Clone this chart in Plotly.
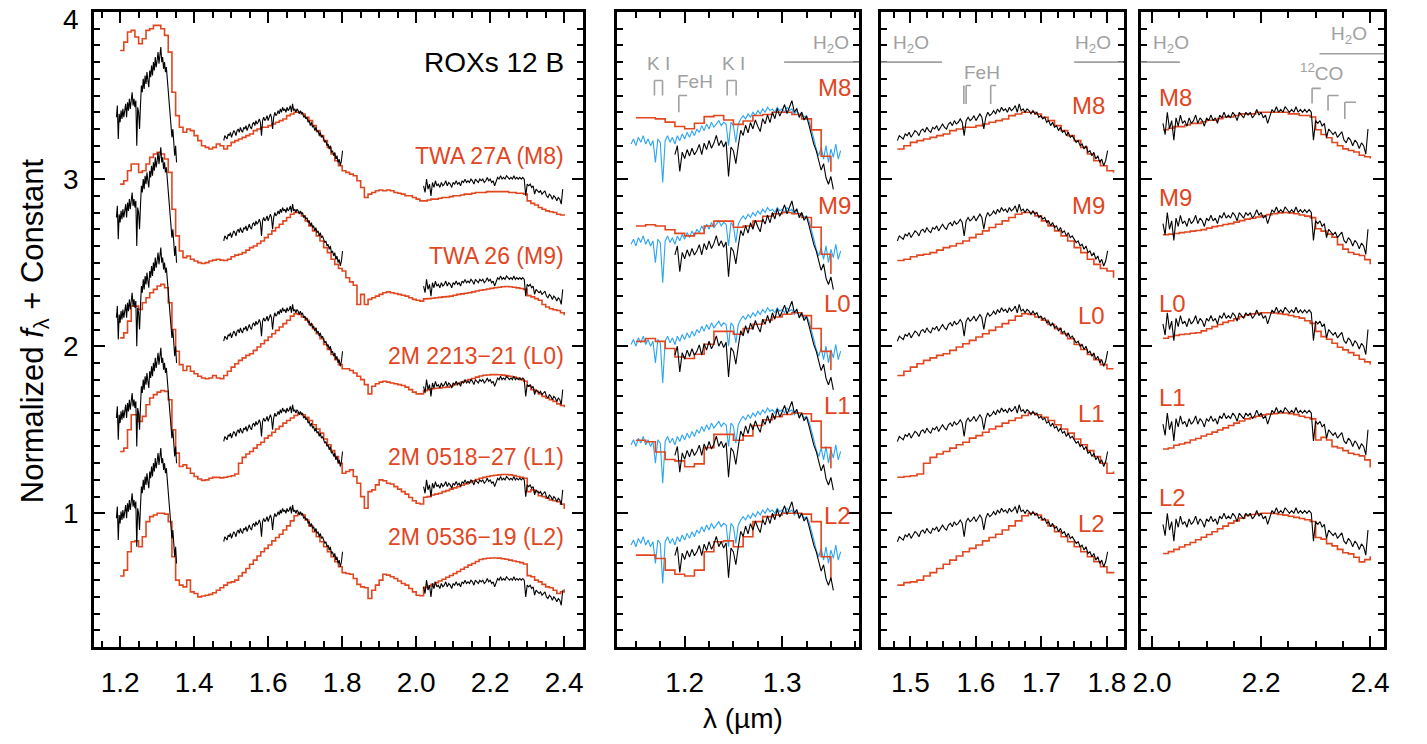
import numpy as np
import plotly.graph_objects as go

# ---------------------------------------------------------------
# ROXs 12 B, low-resolution spectrum (normalised to the H-band peak)
# ---------------------------------------------------------------
OBJ_J_START, OBJ_J_STEP = 1.19, 0.0025
obj_J = [
    0.97, 1.04, 0.84, 0.99, 0.94, 1.01, 0.96, 1.02, 0.97, 1.00,
    1.05, 0.97, 1.06, 1.01, 1.08, 1.02, 1.06, 1.12, 1.04, 1.08,
    1.03, 1.07, 0.80, 1.03, 1.00, 0.90, 1.04, 1.16, 1.12, 1.20,
    1.14, 1.22, 1.17, 1.24, 1.19, 1.15, 1.25, 1.21, 1.28, 1.22,
    1.30, 1.25, 1.33, 1.27, 1.31, 1.36, 1.29, 1.34, 1.39, 1.30,
    1.33, 1.26, 1.30, 1.24, 1.27, 1.20, 1.12, 1.05, 1.00, 0.93,
    0.85, 0.90, 0.79, 0.74, 0.80, 0.70,
]
OBJ_H_START, OBJ_H_STEP = 1.48, 0.003
obj_H = [
    0.83, 0.86, 0.85, 0.84, 0.87, 0.86, 0.88, 0.85, 0.87, 0.89,
    0.88, 0.86, 0.89, 0.90, 0.88, 0.91, 0.89, 0.88, 0.91, 0.90,
    0.92, 0.89, 0.91, 0.93, 0.91, 0.90, 0.93, 0.94, 0.92, 0.95,
    0.93, 0.94, 0.96, 0.94, 0.86, 0.95, 0.97, 0.95, 0.96, 0.98,
    0.95, 0.97, 0.99, 0.97, 0.90, 0.97, 1.00, 0.98, 0.99, 1.01,
    0.99, 1.02, 1.00, 1.03, 1.01, 1.02, 1.00, 1.03, 1.01, 1.02,
    1.04, 1.00, 1.05, 1.01, 1.02, 1.00, 1.02, 1.01, 0.99, 1.01,
    0.99, 1.00, 0.97, 0.98, 0.96, 0.97, 0.94, 0.95, 0.92, 0.94,
    0.91, 0.92, 0.89, 0.91, 0.88, 0.89, 0.86, 0.88, 0.85, 0.86,
    0.84, 0.82, 0.83, 0.80, 0.81, 0.78, 0.80, 0.76, 0.77, 0.74,
    0.76, 0.72, 0.74, 0.70, 0.72, 0.68, 0.71, 0.77,
]
OBJ_K_START, OBJ_K_STEP = 2.02, 0.004
obj_K = [
    0.56, 0.52, 0.60, 0.54, 0.57, 0.50, 0.58, 0.55, 0.59, 0.56,
    0.57, 0.55, 0.58, 0.56, 0.57, 0.59, 0.56, 0.58, 0.57, 0.55,
    0.58, 0.57, 0.59, 0.57, 0.58, 0.56, 0.59, 0.58, 0.60, 0.58,
    0.59, 0.58, 0.60, 0.59, 0.57, 0.60, 0.59, 0.58, 0.60, 0.59,
    0.60, 0.58, 0.59, 0.61, 0.59, 0.60, 0.58, 0.59, 0.56, 0.59,
    0.61, 0.60, 0.62, 0.60, 0.61, 0.60, 0.62, 0.61, 0.60, 0.61,
    0.60, 0.62, 0.60, 0.61, 0.60, 0.61, 0.60, 0.61, 0.60, 0.50,
    0.57, 0.56, 0.57, 0.55, 0.56, 0.51, 0.54, 0.53, 0.52, 0.53,
    0.51, 0.52, 0.53, 0.50, 0.49, 0.51, 0.50, 0.48, 0.50, 0.49,
    0.47, 0.49, 0.48, 0.45, 0.54,
]

# second J-band spectrum of ROXs 12 B (J-band normalised)
OBJ_J2_START, OBJ_J2_STEP = 1.145, 0.0025
obj_J2 = [
    0.81, 0.84, 0.80, 0.85, 0.82, 0.86, 0.81, 0.84, 0.80, 0.83,
    0.70, 0.84, 0.82, 0.58, 0.83, 0.86, 0.82, 0.85, 0.81, 0.86,
    0.83, 0.87, 0.84, 0.88, 0.85, 0.89, 0.86, 0.90, 0.88, 0.92,
    0.89, 0.93, 0.90, 0.94, 0.91, 0.93, 0.95, 0.92, 0.94, 0.93,
    0.80, 0.94, 0.92, 0.82, 0.93, 0.96, 0.98, 0.96, 0.99, 0.97,
    1.00, 0.98, 1.01, 0.99, 1.02, 1.00, 1.03, 1.01, 1.02, 1.00,
    1.03, 1.01, 1.02, 1.00, 1.03, 1.01, 1.02, 0.99, 1.01, 0.98,
    1.00, 0.97, 0.98, 0.95, 0.90, 0.84, 0.78, 0.74, 0.79, 0.72,
    0.80, 0.70, 0.78, 0.73, 0.81, 0.72, 0.77,
]

# ---------------------------------------------------------------
# Young field templates on a common 0.01 um grid (H-peak normalised)
# ---------------------------------------------------------------
TPL_START, TPL_STEP = 1.15, 0.01
tpl_twa27a = [
    1.47, 1.47, 1.46, 1.43, 1.39, 1.37, 1.42, 1.48, 1.49, 1.45,
    1.41, 1.44, 1.49, 1.50, 1.52, 1.52, 1.50, 1.46, 1.36, 1.12,
    0.98, 0.91, 0.88, 0.90, 0.89, 0.86, 0.83, 0.80, 0.79, 0.78,
    0.79, 0.81, 0.80, 0.78, 0.80, 0.82, 0.83, 0.84, 0.85, 0.86,
    0.87, 0.89, 0.90, 0.91, 0.91, 0.92, 0.93, 0.94, 0.95, 0.96,
    0.98, 0.99, 1.00, 1.00, 0.99, 0.97, 0.95, 0.92, 0.89, 0.86,
    0.83, 0.79, 0.75, 0.71, 0.68, 0.65, 0.64, 0.63, 0.62, 0.59,
    0.55, 0.49, 0.51, 0.52, 0.53, 0.535, 0.53, 0.535, 0.53, 0.52,
    0.515, 0.51, 0.50, 0.50, 0.49, 0.48, 0.47, 0.47, 0.475, 0.48,
    0.48, 0.485, 0.49, 0.49, 0.495, 0.50, 0.50, 0.505, 0.51, 0.51,
    0.515, 0.52, 0.52, 0.52, 0.525, 0.525, 0.525, 0.525, 0.525, 0.525,
    0.52, 0.52, 0.515, 0.515, 0.51, 0.47, 0.455, 0.445, 0.43, 0.42,
    0.41, 0.405, 0.40, 0.39, 0.385, 0.38,
]
tpl_twa26 = [
    1.25, 1.26, 1.25, 1.22, 1.19, 1.17, 1.19, 1.25, 1.29, 1.29,
    1.24, 1.25, 1.29, 1.33, 1.35, 1.36, 1.35, 1.32, 1.24, 1.02,
    0.86, 0.77, 0.73, 0.74, 0.72, 0.71, 0.70, 0.695, 0.70, 0.71,
    0.715, 0.72, 0.715, 0.713, 0.72, 0.735, 0.745, 0.75, 0.76, 0.775,
    0.79, 0.80, 0.815, 0.83, 0.85, 0.87, 0.89, 0.91, 0.93, 0.95,
    0.97, 0.99, 1.00, 1.00, 0.98, 0.95, 0.92, 0.89, 0.86, 0.83,
    0.79, 0.76, 0.72, 0.69, 0.665, 0.65, 0.61, 0.585, 0.565, 0.45,
    0.51, 0.45, 0.48, 0.49, 0.50, 0.51, 0.52, 0.525, 0.52, 0.515,
    0.51, 0.505, 0.50, 0.49, 0.48, 0.475, 0.47, 0.483, 0.485, 0.487,
    0.49, 0.492, 0.495, 0.497, 0.50, 0.505, 0.51, 0.513, 0.517, 0.52,
    0.525, 0.53, 0.535, 0.538, 0.542, 0.546, 0.55, 0.553, 0.556, 0.557,
    0.556, 0.553, 0.549, 0.545, 0.54, 0.503, 0.495, 0.485, 0.475, 0.45,
    0.435, 0.424, 0.418, 0.414, 0.40, 0.385,
]
tpl_2m2213 = [
    0.97, 0.99, 0.97, 0.92, 0.86, 0.85, 0.88, 0.95, 1.04, 1.04,
    1.02, 1.06, 1.09, 1.12, 1.14, 1.16, 1.17, 1.15, 1.06, 0.90,
    0.77, 0.69, 0.655, 0.68, 0.65, 0.635, 0.62, 0.61, 0.605, 0.61,
    0.625, 0.61, 0.605, 0.625, 0.65, 0.675, 0.695, 0.715, 0.73, 0.745,
    0.755, 0.775, 0.795, 0.815, 0.835, 0.855, 0.875, 0.895, 0.915, 0.935,
    0.955, 0.98, 0.995, 0.99, 0.975, 0.955, 0.93, 0.905, 0.875, 0.845,
    0.81, 0.78, 0.75, 0.72, 0.69, 0.665, 0.665, 0.655, 0.64, 0.62,
    0.60, 0.57, 0.515, 0.56, 0.575, 0.585, 0.59, 0.585, 0.58, 0.575,
    0.57, 0.565, 0.555, 0.54, 0.525, 0.515, 0.515, 0.534, 0.54, 0.545,
    0.548, 0.55, 0.553, 0.555, 0.562, 0.57, 0.578, 0.586, 0.594, 0.60,
    0.607, 0.615, 0.622, 0.626, 0.628, 0.63, 0.63, 0.629, 0.627, 0.624,
    0.62, 0.615, 0.61, 0.60, 0.59, 0.56, 0.54, 0.53, 0.515, 0.50,
    0.49, 0.48, 0.47, 0.455, 0.445, 0.435,
]
tpl_2m0518 = [
    0.95, 0.94, 0.87, 0.82, 0.81, 0.77, 0.79, 0.90, 0.99, 0.99,
    0.95, 0.98, 1.05, 1.09, 1.11, 1.125, 1.135, 1.13, 1.08, 0.90,
    0.76, 0.68, 0.69, 0.67, 0.64, 0.62, 0.605, 0.597, 0.60, 0.61,
    0.615, 0.615, 0.612, 0.616, 0.62, 0.625, 0.635, 0.70, 0.735, 0.755,
    0.77, 0.79, 0.81, 0.825, 0.85, 0.865, 0.885, 0.905, 0.92, 0.94,
    0.955, 0.97, 0.985, 1.00, 0.99, 0.975, 0.955, 0.93, 0.905, 0.88,
    0.845, 0.81, 0.775, 0.74, 0.70, 0.64, 0.65, 0.66, 0.62, 0.58,
    0.50, 0.43, 0.53, 0.54, 0.57, 0.60, 0.595, 0.58, 0.575, 0.56,
    0.545, 0.53, 0.515, 0.495, 0.475, 0.46, 0.456, 0.496, 0.50, 0.51,
    0.515, 0.52, 0.53, 0.536, 0.545, 0.552, 0.56, 0.568, 0.576, 0.585,
    0.594, 0.602, 0.61, 0.615, 0.62, 0.625, 0.628, 0.63, 0.632, 0.632,
    0.63, 0.626, 0.62, 0.615, 0.61, 0.53, 0.54, 0.53, 0.505, 0.50,
    0.49, 0.48, 0.475, 0.47, 0.455, 0.426,
]
tpl_2m0536 = [
    0.75, 0.75, 0.73, 0.66, 0.635, 0.625, 0.66, 0.77, 0.83, 0.835,
    0.80, 0.86, 0.95, 0.98, 0.99, 1.00, 1.00, 0.995, 0.95, 0.74,
    0.60, 0.57, 0.56, 0.60, 0.53, 0.52, 0.50, 0.505, 0.51, 0.515,
    0.525, 0.54, 0.555, 0.57, 0.585, 0.59, 0.60, 0.625, 0.645, 0.67,
    0.695, 0.72, 0.745, 0.77, 0.79, 0.81, 0.835, 0.855, 0.875, 0.90,
    0.925, 0.955, 0.985, 1.00, 0.99, 0.96, 0.925, 0.89, 0.86, 0.83,
    0.80, 0.77, 0.74, 0.71, 0.68, 0.645, 0.64, 0.635, 0.61, 0.575,
    0.56, 0.555, 0.49, 0.54, 0.57, 0.60, 0.635, 0.63, 0.62, 0.61,
    0.595, 0.58, 0.57, 0.55, 0.53, 0.51, 0.507, 0.557, 0.565, 0.575,
    0.585, 0.595, 0.605, 0.617, 0.628, 0.64, 0.652, 0.665, 0.677, 0.69,
    0.70, 0.712, 0.724, 0.728, 0.731, 0.733, 0.733, 0.732, 0.728, 0.725,
    0.72, 0.715, 0.71, 0.705, 0.697, 0.627, 0.62, 0.60, 0.59, 0.575,
    0.56, 0.555, 0.54, 0.52, 0.53, 0.545,
]

templates = [tpl_twa27a, tpl_twa26, tpl_2m2213, tpl_2m0518, tpl_2m0536]
template_names = ["TWA 27A (M8)", "TWA 26 (M9)", "2M 2213\u221221 (L0)",
                  "2M 0518\u221227 (L1)", "2M 0536\u221219 (L2)"]
spectral_types = ["M8", "M9", "L0", "L1", "L2"]
row_offsets = [2.4, 1.8, 1.2, 0.6, 0.0]
y_tick_values = [1, 2, 3, 4]

# ---------------------------------------------------------------
RED = "#E2461E"
BLUE = "#2AA4F4"
GRAY = "#A0A0A0"
FONT = "Liberation Sans, Arial, sans-serif"


def sampled(start, step, vals):
    v = np.asarray(vals, dtype=float)
    return np.round(start + step * np.arange(len(v)), 5), v


def window(wl, fl, lo, hi):
    m = (wl >= lo - 1e-9) & (wl <= hi + 1e-9)
    return wl[m], fl[m]


def band_scale(wl, fl, lo, hi, how):
    _, f = window(wl, fl, lo, hi)
    return np.max(f) if how == "max" else np.median(f)


wl_J, f_J = sampled(OBJ_J_START, OBJ_J_STEP, obj_J)
wl_H, f_H = sampled(OBJ_H_START, OBJ_H_STEP, obj_H)
wl_K, f_K = sampled(OBJ_K_START, OBJ_K_STEP, obj_K)
wl_J2, f_J2 = sampled(OBJ_J2_START, OBJ_J2_STEP, obj_J2)

# band normalisations for the zoomed panels
obj_J_norm = band_scale(wl_J, f_J, 1.28, 1.32, "median")
obj_K_norm = band_scale(wl_K, f_K, 2.20, 2.29, "median")

fig = go.Figure()

# panel x-ranges (um) and tick spacing
panels = [
    dict(rng=[1.13, 2.45], dtick=0.2, tick0=1.2, minor=0.05),
    dict(rng=[1.131, 1.379], dtick=0.1, tick0=1.2, minor=0.025),
    dict(rng=[1.455, 1.8256], dtick=0.1, tick0=1.5, minor=0.025),
    dict(rng=[1.979, 2.426], dtick=0.2, tick0=2.0, minor=0.05),
]

# ---- panel 1: full 1.2-2.4 um ----
obj_x = list(wl_J) + [None] + list(wl_H) + [None] + list(wl_K)
obj_y = list(f_J) + [None] + list(f_H) + [None] + list(f_K)
for tpl, off in zip(templates, row_offsets):
    tw, tf = sampled(TPL_START, TPL_STEP, tpl)
    tw, tf = window(tw, tf, 1.20, 2.40)
    fig.add_trace(go.Scatter(x=tw, y=tf + off, xaxis="x", yaxis="y", mode="lines",
                             line=dict(color=RED, width=1.6, shape="hv"),
                             hoverinfo="skip", showlegend=False))
    fig.add_trace(go.Scatter(x=obj_x, y=[None if v is None else v + off for v in obj_y],
                             xaxis="x", yaxis="y", mode="lines",
                             line=dict(color="black", width=1.1),
                             hoverinfo="skip", showlegend=False, connectgaps=False))

# ---- panel 2: J band ----
for tpl, off in zip(templates, row_offsets):
    tw, tf = sampled(TPL_START, TPL_STEP, tpl)
    s = band_scale(tw, tf, 1.27, 1.33, "max")
    fig.add_trace(go.Scatter(x=wl_J2, y=f_J2 + off, xaxis="x2", yaxis="y2", mode="lines",
                             line=dict(color=BLUE, width=1.1),
                             hoverinfo="skip", showlegend=False))
    tw2, tf2 = window(tw, tf, 1.15, 1.35)
    fig.add_trace(go.Scatter(x=tw2, y=tf2 / s + off, xaxis="x2", yaxis="y2", mode="lines",
                             line=dict(color=RED, width=1.6, shape="hv"),
                             hoverinfo="skip", showlegend=False))
    fig.add_trace(go.Scatter(x=wl_J, y=f_J / obj_J_norm + off, xaxis="x2", yaxis="y2",
                             mode="lines", line=dict(color="black", width=1.1),
                             hoverinfo="skip", showlegend=False))

# ---- panel 3: H band ----
for tpl, off in zip(templates, row_offsets):
    tw, tf = sampled(TPL_START, TPL_STEP, tpl)
    tw3, tf3 = window(tw, tf, 1.48, 1.81)
    fig.add_trace(go.Scatter(x=tw3, y=tf3 + off, xaxis="x3", yaxis="y3", mode="lines",
                             line=dict(color=RED, width=1.6, shape="hv"),
                             hoverinfo="skip", showlegend=False))
    fig.add_trace(go.Scatter(x=wl_H, y=f_H + off, xaxis="x3", yaxis="y3", mode="lines",
                             line=dict(color="black", width=1.1),
                             hoverinfo="skip", showlegend=False))

# ---- panel 4: K band ----
for tpl, off in zip(templates, row_offsets):
    tw, tf = sampled(TPL_START, TPL_STEP, tpl)
    s = band_scale(tw, tf, 2.10, 2.29, "max")
    tw4, tf4 = window(tw, tf, 2.02, 2.40)
    fig.add_trace(go.Scatter(x=tw4, y=tf4 / s + off, xaxis="x4", yaxis="y4", mode="lines",
                             line=dict(color=RED, width=1.6, shape="hv"),
                             hoverinfo="skip", showlegend=False))
    fig.add_trace(go.Scatter(x=wl_K, y=f_K / obj_K_norm + off, xaxis="x4", yaxis="y4",
                             mode="lines", line=dict(color="black", width=1.1),
                             hoverinfo="skip", showlegend=False))

# ---------------------------------------------------------------
annotations = []


def txt(xref, yref, x, y, text, color, size, xanchor="center", yanchor="middle"):
    annotations.append(dict(xref=xref, yref=yref, x=x, y=y, text=text, showarrow=False,
                            xanchor=xanchor, yanchor=yanchor,
                            font=dict(family=FONT, size=size, color=color)))


# row labels
p1_label_y = [3.14, 2.54, 1.94, 1.34, 0.856]
p2_label_y = [3.549, 2.842, 2.255, 1.644, 0.986]
p3_label_y = [3.441, 2.842, 2.184, 1.597, 0.938]
p4_label_y = [3.489, 2.890, 2.256, 1.693, 1.094]
txt("x", "y", 2.405, 3.70, "ROXs 12 B", "black", 28, xanchor="right")
for name, sp, a, b, c, d in zip(template_names, spectral_types,
                                p1_label_y, p2_label_y, p3_label_y, p4_label_y):
    txt("x", "y", 2.405, a, name, RED, 23, xanchor="right")
    txt("x2", "y2", 1.373, b, sp, RED, 24, xanchor="right")
    txt("x3", "y3", 1.800, c, sp, RED, 24, xanchor="right")
    txt("x4", "y4", 2.009, d, sp, RED, 24, xanchor="left")

# absorption-feature labels
H2O = "H<sub>2</sub>O"
txt("x2", "y2", 1.3705, 3.81, H2O, GRAY, 19, xanchor="right")
txt("x2", "y2", 1.1734, 3.69, "K I", GRAY, 19)
txt("x2", "y2", 1.2496, 3.69, "K I", GRAY, 19)
txt("x2", "y2", 1.2106, 3.585, "FeH", GRAY, 19)
txt("x3", "y3", 1.5007, 3.81, H2O, GRAY, 19)
txt("x3", "y3", 1.7780, 3.81, H2O, GRAY, 19)
txt("x3", "y3", 1.6098, 3.64, "FeH", GRAY, 19)
txt("x4", "y4", 2.0354, 3.81, H2O, GRAY, 19)
txt("x4", "y4", 2.3972, 3.86, H2O, GRAY, 19, xanchor="right")
txt("x4", "y4", 2.3099, 3.64, "<sup>12</sup>CO", GRAY, 19)

# y tick labels of the first panel
for v in y_tick_values:
    annotations.append(dict(xref="paper", yref="y", x=74 / 1427, y=v, text=str(v),
                            showarrow=False, xanchor="right",
                            yanchor="top" if v == 4 else "middle",
                            yshift=10 if v == 4 else 0,
                            font=dict(family=FONT, size=28, color="black")))

# axis titles
annotations.append(dict(xref="paper", yref="paper", x=0.019, y=0.556,
                        text="Normalized <i>f</i><sub>\u03bb</sub> + Constant",
                        textangle=-90, showarrow=False, xanchor="center", yanchor="middle",
                        font=dict(family=FONT, size=31, color="black")))
annotations.append(dict(xref="paper", yref="paper", x=0.52, y=0.034,
                        text="\u03bb (\u00b5m)", showarrow=False,
                        xanchor="center", yanchor="middle",
                        font=dict(family=FONT, size=28, color="black")))

# feature bars and brackets
shapes = []


def seg(xref, yref, x0, y0, x1, y1, w=1.6):
    shapes.append(dict(type="line", xref=xref, yref=yref, x0=x0, y0=y0, x1=x1, y1=y1,
                       line=dict(color=GRAY, width=w)))


def bracket(xref, yref, xa, xb, ytop, ybot):
    seg(xref, yref, xa, ybot, xa, ytop)
    seg(xref, yref, xa, ytop, xb, ytop)
    seg(xref, yref, xb, ytop, xb, ybot)


def gamma(xref, yref, xa, xb, ytop, ybot):
    seg(xref, yref, xa, ybot, xa, ytop)
    seg(xref, yref, xa, ytop, xb, ytop)


seg("x2", "y2", 1.302, 3.70, 1.379, 3.70)
bracket("x2", "y2", 1.1690, 1.1773, 3.59, 3.50)
bracket("x2", "y2", 1.2436, 1.2528, 3.59, 3.50)
gamma("x2", "y2", 1.1940, 1.2025, 3.50, 3.40)

seg("x3", "y3", 1.455, 3.70, 1.548, 3.70)
seg("x3", "y3", 1.750, 3.70, 1.8256, 3.70)
seg("x3", "y3", 1.5815, 3.45, 1.5815, 3.56)
gamma("x3", "y3", 1.5850, 1.5925, 3.56, 3.45)
gamma("x3", "y3", 1.6225, 1.6310, 3.56, 3.45)

seg("x4", "y4", 1.979, 3.70, 2.051, 3.70)
seg("x4", "y4", 2.307, 3.75, 2.426, 3.75)
gamma("x4", "y4", 2.2935, 2.3095, 3.543, 3.453)
gamma("x4", "y4", 2.3227, 2.3420, 3.500, 3.410)
gamma("x4", "y4", 2.3535, 2.3740, 3.460, 3.360)

# ---------------------------------------------------------------
W, H = 1427, 744
x_dom = [[87 / W, 580 / W], [615 / W, 859 / W], [881 / W, 1126 / W], [1143 / W, 1389 / W]]
y_dom = [1 - 647 / H, 1 - 12 / H]

layout = dict(width=W, height=H, margin=dict(l=0, r=0, t=0, b=0),
              paper_bgcolor="white", plot_bgcolor="white",
              annotations=annotations, shapes=shapes, showlegend=False)

for i, p in enumerate(panels):
    sfx = "" if i == 0 else str(i + 1)
    layout["xaxis" + sfx] = dict(
        domain=x_dom[i], range=p["rng"], anchor="y" + sfx,
        showline=True, linewidth=3, linecolor="black", mirror="allticks",
        ticks="inside", ticklen=11, tickwidth=2, tickcolor="black",
        tick0=p["tick0"], dtick=p["dtick"], tickformat=".1f",
        minor=dict(ticks="inside", ticklen=6, tickwidth=2, tickcolor="black",
                   tick0=p["tick0"], dtick=p["minor"]),
        showgrid=False, zeroline=False, ticklabelstandoff=8,
        tickfont=dict(family=FONT, size=28, color="black"))
    layout["yaxis" + sfx] = dict(
        domain=y_dom, range=[0.2, 4.0], anchor="x" + sfx,
        showline=True, linewidth=3, linecolor="black", mirror="allticks",
        ticks="inside", ticklen=11, tickwidth=2, tickcolor="black",
        tick0=0, dtick=1,
        minor=dict(ticks="inside", ticklen=6, tickwidth=2, tickcolor="black",
                   tick0=0, dtick=0.1),
        showgrid=False, zeroline=False, showticklabels=False)

fig.update_layout(**layout)
fig.write_html("out.html")
